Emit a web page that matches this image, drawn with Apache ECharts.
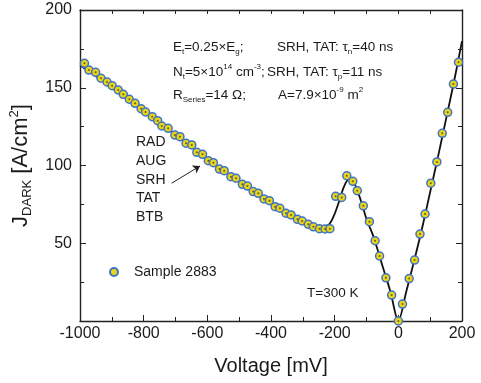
<!DOCTYPE html>
<html>
<head>
<meta charset="utf-8">
<script src="https://cdn.jsdelivr.net/npm/echarts@6/dist/echarts.min.js"></script>
<style>
  html, body { margin: 0; padding: 0; background: #fff; }
  #chart { width: 481px; height: 383px; }
</style>
</head>
<body>
<div id="chart"></div>
<script>
// measured points, Sample 2883
const voltage = [
  -986, -972, -951, -934, -915, -899, -880, -864, -845, -827, -808, -794, -773, -756,
  -743, -723, -702, -686, -667, -649, -633, -615, -597, -581, -562, -547, -526, -510,
  -490, -474, -456, -440, -422, -405, -387, -372, -353, -337, -317, -302, -283, -267,
  -248, -230, -215,
  -197, -178, -162, -143, -129, -110, -91, -73, -59, -39, -21, 0,
  13, 34, 51, 68, 84, 102, 121, 138, 155, 173, 189
]
const jDark = [
  165.7, 161.4, 159.9, 156.1, 153.7, 151.3, 148.6, 145.8, 142.6, 140.0, 136.5, 134.4, 131.4, 128.8,
  125.4, 123.9, 119.6, 118.5, 114.3, 113.2, 108.5, 107.2, 103.1, 101.8, 97.7, 96.7, 92.8, 91.8,
  87.9, 86.8, 83.2, 82.1, 78.5, 77.4, 73.5, 72.5, 69.3, 68.2, 65.4, 64.3, 62.2, 60.6,
  59.4, 59.2, 59.4,
  80.2, 79.5, 93.4, 89.8, 83.8, 74.1, 63.9, 51.6, 41.8, 27.8, 16.7, 0,
  10.9, 27.3, 39.2, 55.9, 68.8, 88.6, 102.3, 120.7, 134.2, 152.4, 166.4
]

// simulated curve (RAD, AUG, SRH, TAT, BTB)
const fitVoltage = [
  -1000, -900, -800, -700, -600, -500, -400, -300, -270, -246, -220, -204, -188, -173,
  -160, -152, -141, -129, -115, -99, -78, -50, -25, 0, 25, 50, 75, 100, 125, 150, 175, 200
]
const fitJ = [
  164.5, 150.3, 135.5, 119.8, 104.0, 89.5, 76.3, 64.8, 62.0, 60.6, 61.7, 67.0, 75.7, 85.3,
  90.7, 91.3, 89.6, 84.2, 75.7, 65.0, 54.2, 35.5, 19.0, 0, 19.0, 39.0, 60.0, 83.0, 106.0, 130.0, 154.0, 180.0
]

// arrow from the mechanism list to the curve
const arrowStart = [-712, 88.6]
const arrowEnd = [-623, 99.7]

const xTicks = { min: -1000, max: 200, step: 200 }
const yTicks = { min: 0, max: 200, step: 50 }

const FONT = 'Liberation Sans, Arial, sans-serif'
const INK = '#1a1a1a'

const samples = voltage.map((v, i) => [v, jDark[i]])
const fit = fitVoltage.map((v, i) => [v, fitJ[i]])

const rich = {
  n: { fontSize: 13.5, lineHeight: 18, fontFamily: FONT, color: INK },
  sb: { fontSize: 8, lineHeight: 8, verticalAlign: 'bottom', fontFamily: FONT, color: INK },
  sp: { fontSize: 8, lineHeight: 8, verticalAlign: 'top', fontFamily: FONT, color: INK },
}

const note = (x, y, text) => ({
  type: 'text',
  x,
  y,
  style: {
    text,
    rich,
    fontFamily: FONT,
    fontSize: 13.5,
    fill: INK,
    verticalAlign: 'middle',
  },
})

const chart = echarts.init(document.getElementById('chart'), null, { renderer: 'canvas' })

const axisLine = { show: true, onZero: false, lineStyle: { color: '#222', width: 1.4 } }

const option = {
  animation: false,
  backgroundColor: '#fff',
  textStyle: { fontFamily: FONT },
  grid: { left: 80, right: 19, top: 10, bottom: 62 },
  legend: {
    data: ['Sample 2883'],
    left: 109,
    top: 265,
    padding: 0,
    itemWidth: 8,
    itemHeight: 8,
    textStyle: { fontSize: 14, color: INK, fontFamily: FONT, padding: [0, 0, 0, 11] },
  },
  xAxis: [
    {
      type: 'value',
      position: 'bottom',
      min: xTicks.min,
      max: xTicks.max,
      interval: xTicks.step,
      axisLine,
      axisTick: { show: true, inside: true, length: 6, lineStyle: { color: '#222' } },
      minorTick: { show: true, splitNumber: 2, length: 4, lineStyle: { color: '#222' } },
      splitLine: { show: false },
      axisLabel: { fontSize: 16, margin: 5, color: INK, fontFamily: FONT, formatter: (v) => String(v) },
      name: 'Voltage [mV]',
      nameLocation: 'middle',
      nameGap: 35,
      nameTextStyle: { fontSize: 20, color: INK, fontFamily: FONT },
    },
    {
      type: 'value',
      position: 'top',
      min: xTicks.min,
      max: xTicks.max,
      interval: 100,
      axisLine,
      axisTick: { show: true, inside: true, length: 4, lineStyle: { color: '#222' } },
      splitLine: { show: false },
      axisLabel: { show: false },
    },
  ],
  yAxis: [
    {
      type: 'value',
      position: 'left',
      min: yTicks.min,
      max: yTicks.max,
      interval: yTicks.step,
      axisLine,
      axisTick: { show: true, inside: true, length: 6, lineStyle: { color: '#222' } },
      minorTick: { show: true, splitNumber: 2, length: 4, lineStyle: { color: '#222' } },
      splitLine: { show: false },
      axisLabel: {
        fontSize: 16,
        margin: 8,
        color: INK,
        fontFamily: FONT,
        formatter: (v) => (v === 0 ? '' : String(v)),
      },
      name: '{n|J}{sb|DARK}{n| [A/cm}{sp|2}{n|]}',
      nameLocation: 'middle',
      nameRotate: 90,
      nameGap: 42,
      nameTextStyle: {
        rich: {
          n: { fontSize: 22, lineHeight: 26, fontFamily: FONT, color: INK },
          sb: { fontSize: 13, lineHeight: 13, verticalAlign: 'bottom', fontFamily: FONT, color: INK },
          sp: { fontSize: 13, lineHeight: 13, verticalAlign: 'top', fontFamily: FONT, color: INK },
        },
      },
    },
    {
      type: 'value',
      position: 'right',
      min: yTicks.min,
      max: yTicks.max,
      interval: yTicks.step,
      axisLine,
      axisTick: { show: true, inside: true, length: 6, lineStyle: { color: '#222' } },
      minorTick: { show: true, splitNumber: 2, length: 4, lineStyle: { color: '#222' } },
      splitLine: { show: false },
      axisLabel: { show: false },
    },
  ],
  series: [
    {
      name: 'fit',
      type: 'line',
      data: fit,
      smooth: 0.3,
      showSymbol: false,
      z: 2,
      lineStyle: { color: '#111', width: 1.8 },
      markLine: {
        silent: true,
        symbol: ['none', 'arrow'],
        symbolSize: 7,
        label: { show: false },
        lineStyle: { color: '#222', width: 1, type: 'solid' },
        data: [[{ coord: arrowStart }, { coord: arrowEnd }]],
      },
    },
    {
      name: 'Sample 2883',
      type: 'scatter',
      data: samples,
      symbol: 'circle',
      symbolSize: 8,
      z: 3,
      itemStyle: { color: '#e8d418', borderColor: '#3f73c6', borderWidth: 1.5, opacity: 1 },
    },
    {
      name: 'dot',
      type: 'scatter',
      data: samples,
      symbolSize: 2,
      silent: true,
      z: 4,
      itemStyle: { color: '#4a4220' },
    },
  ],
  graphic: [
    note(173, 47, '{n|E}{sb|t}{n|=0.25×E}{sb|g}{n|;}'),
    note(173, 72, '{n|N}{sb|t}{n|=5×10}{sp|14}{n| cm}{sp|-3}{n|;}'),
    note(173, 95, '{n|R}{sb|Series}{n|=14 Ω;}'),
    note(277, 47, '{n|SRH, TAT: τ}{sb|n}{n|=40 ns}'),
    note(267, 72, '{n|SRH, TAT: τ}{sb|p}{n|=11 ns}'),
    note(278, 95, '{n|A=7.9×10}{sp|-9}{n| m}{sp|2}'),
    note(307, 293, '{n|T=300 K}'),
    {
      type: 'text',
      x: 136,
      y: 133,
      style: {
        text: 'RAD\nAUG\nSRH\nTAT\nBTB',
        fontFamily: FONT,
        fontSize: 14,
        lineHeight: 18.7,
        fill: INK,
      },
    },
  ],
}

chart.setOption(option)
</script>
</body>
</html>
